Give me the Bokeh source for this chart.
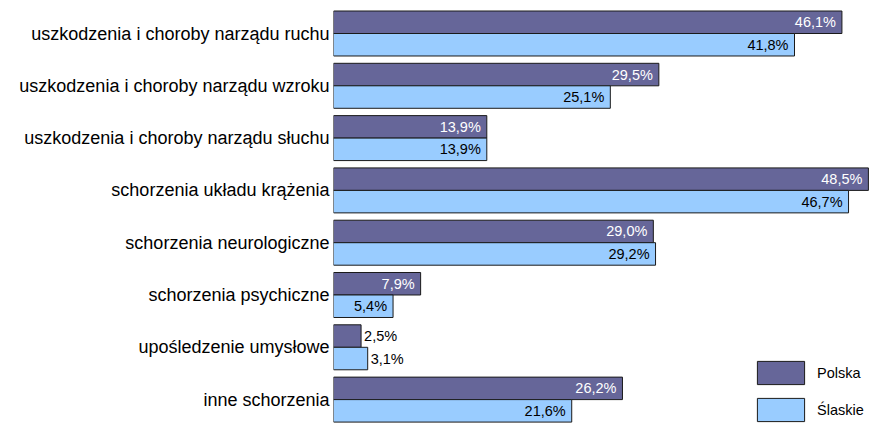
from bokeh.plotting import figure
from bokeh.models import ColumnDataSource, Range1d, FixedTicker, Legend, LegendItem
from bokeh.core.properties import value
from bokeh.embed import file_html
from bokeh.resources import INLINE

categories = [
    "uszkodzenia i choroby narządu ruchu",
    "uszkodzenia i choroby narządu wzroku",
    "uszkodzenia i choroby narządu słuchu",
    "schorzenia układu krążenia",
    "schorzenia neurologiczne",
    "schorzenia psychiczne",
    "upośledzenie umysłowe",
    "inne schorzenia",
]
polska = [46.1, 29.5, 13.9, 48.5, 29.0, 7.9, 2.5, 26.2]
slaskie = [41.8, 25.1, 13.9, 46.7, 29.2, 5.4, 3.1, 21.6]
series_names = ["Polska", "Ślaskie"]

COL_P = "#666699"
COL_S = "#99CCFF"
FONT = "Liberation Sans"
BAR_H = 0.430
INSIDE_MIN = 5.0

def fmt(v):
    return f"{v:.1f}".replace(".", ",") + "%"

idx = list(range(len(categories)))

p = figure(width=869, height=423, output_backend="svg", toolbar_location=None,
           x_range=Range1d(0, 48.6), y_range=Range1d(7.457, -0.631),
           min_border_left=333, min_border_right=0, min_border_top=0, min_border_bottom=0)

def add_series(vals, offset_sign, fill, inside_color):
    ys = [i + offset_sign * BAR_H / 2 for i in idx]
    src = ColumnDataSource(dict(y=ys, right=vals))
    r = p.hbar(y="y", right="right", left=0, height=BAR_H, source=src,
               fill_color=fill, line_color="#1a1a1a", line_width=1)
    inside = [v >= INSIDE_MIN for v in vals]
    lsrc = ColumnDataSource(dict(
        x=vals, y=ys, t=[fmt(v) for v in vals],
        col=[inside_color if ins else "black" for ins in inside],
        align=["right" if ins else "left" for ins in inside],
        xo=[-6 if ins else 3 for ins in inside],
    ))
    p.text(x="x", y="y", text="t", source=lsrc, text_color="col", text_align="align",
           x_offset="xo", text_baseline="middle", text_font=value(FONT),
           text_font_size="14.5px")
    return r

r1 = add_series(polska, -1, COL_P, "white")
r2 = add_series(slaskie, 1, COL_S, "black")

p.xaxis.visible = False
p.xgrid.visible = False
p.ygrid.visible = False
p.outline_line_color = None

p.yaxis.ticker = FixedTicker(ticks=idx)
p.yaxis.major_label_overrides = {i: c for i, c in zip(idx, categories)}
p.yaxis.axis_line_color = None
p.yaxis.major_tick_line_color = None
p.yaxis.minor_tick_line_color = None
p.yaxis.major_tick_out = 0
p.yaxis.major_tick_in = 0
p.yaxis.major_label_standoff = 4
p.yaxis.major_label_text_font = FONT
p.yaxis.major_label_text_font_size = "18px"
p.yaxis.major_label_text_color = "black"

legend = Legend(items=[LegendItem(label=series_names[0], renderers=[r1]),
                       LegendItem(label=series_names[1], renderers=[r2])],
                location=(418, -1), orientation="vertical",
                glyph_width=59, glyph_height=29, spacing=8, padding=0, margin=0,
                label_standoff=7, label_text_font=FONT, label_text_font_size="14.5px",
                label_text_color="black", border_line_color=None,
                background_fill_alpha=0)
p.add_layout(legend, "center")

open("out.html", "w").write(file_html(p, INLINE))
